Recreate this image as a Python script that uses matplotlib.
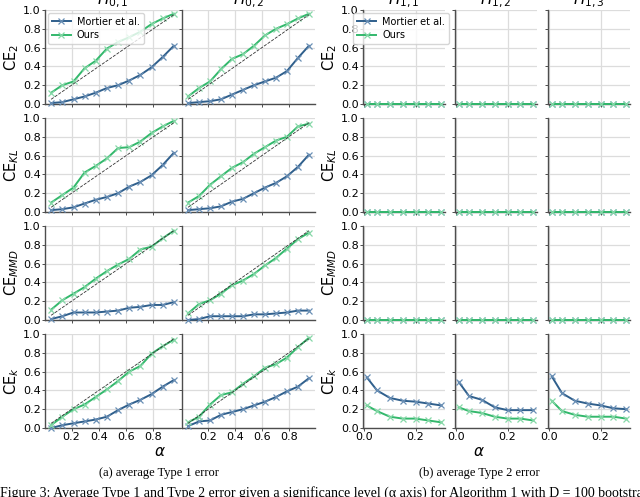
import matplotlib.pyplot as plt

# significance levels on the x axis
alpha_t1 = [0.05, 0.132, 0.214, 0.295, 0.377, 0.459, 0.541, 0.623, 0.705, 0.786, 0.868, 0.95]
alpha_t2 = [0.01, 0.05, 0.1, 0.15, 0.2, 0.25, 0.3]

metrics = ["CE$_2$", "CE$_{KL}$", "CE$_{MMD}$", "CE$_k$"]
h0_titles = ["$H_{0,1}$", "$H_{0,2}$"]
h1_titles = ["$H_{1,1}$", "$H_{1,2}$", "$H_{1,3}$"]

# Type 1 error, rows = metrics, cols = H0,1 / H0,2
mortier_t1 = [
    [[0.01, 0.02, 0.05, 0.08, 0.12, 0.17, 0.20, 0.25, 0.31, 0.39, 0.50, 0.62],
     [0.01, 0.02, 0.03, 0.05, 0.10, 0.15, 0.20, 0.24, 0.28, 0.35, 0.49, 0.62]],
    [[0.02, 0.03, 0.05, 0.09, 0.13, 0.16, 0.20, 0.27, 0.32, 0.39, 0.50, 0.63],
     [0.02, 0.03, 0.04, 0.06, 0.11, 0.14, 0.20, 0.26, 0.31, 0.38, 0.48, 0.61]],
    [[0.01, 0.04, 0.08, 0.08, 0.08, 0.09, 0.10, 0.13, 0.14, 0.16, 0.16, 0.19],
     [0.00, 0.01, 0.04, 0.04, 0.04, 0.04, 0.06, 0.06, 0.07, 0.08, 0.10, 0.10]],
    [[0.00, 0.03, 0.05, 0.07, 0.09, 0.12, 0.19, 0.25, 0.30, 0.36, 0.44, 0.51],
     [0.02, 0.07, 0.08, 0.14, 0.17, 0.20, 0.24, 0.28, 0.33, 0.39, 0.44, 0.53]],
]
ours_t1 = [
    [[0.12, 0.20, 0.24, 0.38, 0.46, 0.59, 0.66, 0.71, 0.77, 0.85, 0.91, 0.96],
     [0.08, 0.17, 0.24, 0.37, 0.48, 0.53, 0.62, 0.73, 0.80, 0.85, 0.91, 0.96]],
    [[0.10, 0.18, 0.26, 0.42, 0.49, 0.57, 0.68, 0.69, 0.75, 0.84, 0.91, 0.97],
     [0.10, 0.17, 0.29, 0.38, 0.47, 0.53, 0.62, 0.69, 0.76, 0.80, 0.91, 0.94]],
    [[0.11, 0.21, 0.28, 0.35, 0.44, 0.52, 0.59, 0.65, 0.75, 0.78, 0.87, 0.95],
     [0.07, 0.17, 0.21, 0.28, 0.37, 0.42, 0.49, 0.58, 0.66, 0.76, 0.86, 0.93]],
    [[0.03, 0.12, 0.20, 0.25, 0.33, 0.41, 0.50, 0.60, 0.66, 0.79, 0.87, 0.94],
     [0.06, 0.12, 0.25, 0.35, 0.38, 0.47, 0.55, 0.64, 0.68, 0.75, 0.86, 0.96]],
]

# Type 2 error, rows = metrics, cols = H1,1 / H1,2 / H1,3
zeros = [0.0, 0.0, 0.0, 0.0, 0.0, 0.0, 0.0]
mortier_t2 = [
    [zeros, zeros, zeros],
    [zeros, zeros, zeros],
    [zeros, zeros, zeros],
    [[0.54, 0.40, 0.32, 0.29, 0.28, 0.26, 0.24],
     [0.49, 0.34, 0.30, 0.22, 0.19, 0.19, 0.19],
     [0.55, 0.37, 0.29, 0.26, 0.24, 0.21, 0.20]],
]
ours_t2 = [
    [zeros, zeros, zeros],
    [zeros, zeros, zeros],
    [zeros, zeros, zeros],
    [[0.24, 0.18, 0.12, 0.10, 0.10, 0.08, 0.06],
     [0.22, 0.18, 0.16, 0.12, 0.10, 0.10, 0.08],
     [0.29, 0.18, 0.14, 0.12, 0.12, 0.12, 0.10]],
]

BLUE = "#2f5f8c"
GREEN = "#33b86c"
W, H = 640, 497

fig = plt.figure(figsize=(6.4, 4.97), dpi=100)

rows_px = [(10, 104), (118, 212), (226, 320), (334, 428)]
left_cols = [(45, 180), (182, 315)]
right_cols = [(363, 445), (455, 537), (548, 630)]


def make_ax(x0, x1, y0, y1):
    return fig.add_axes([x0 / W, 1 - y1 / H, (x1 - x0) / W, (y1 - y0) / H])


def style(ax, show_y, show_x):
    ax.set_ylim(0, 1.0)
    ax.set_yticks([0, 0.2, 0.4, 0.6, 0.8, 1.0])
    ax.grid(True, color="#dcdcdc", lw=0.9)
    ax.set_axisbelow(True)
    for s in ["top", "right"]:
        ax.spines[s].set_visible(False)
    for s in ["left", "bottom"]:
        ax.spines[s].set_color("#4d4d4d")
        ax.spines[s].set_linewidth(1.0)
    ax.tick_params(labelsize=8, length=2, width=0.7, color="#4d4d4d", pad=1.2)
    if not show_y:
        ax.tick_params(labelleft=False)
    if not show_x:
        ax.tick_params(labelbottom=False)


def draw(ax, x, m, o):
    ax.plot(x, m, color=BLUE, lw=1.4, marker="x", ms=4, mew=0.9,
            mec="#6a8fb5", label="Mortier et al.", clip_on=False, zorder=3)
    ax.plot(x, o, color=GREEN, lw=1.4, marker="x", ms=4, mew=0.9,
            mec="#86d8a8", label="Ours", clip_on=False, zorder=4)


def add_legend(ax, x_anchor):
    ax.legend(loc="upper left", fontsize=7, handlelength=2.0, borderpad=0.4,
              labelspacing=0.35, handletextpad=0.6, borderaxespad=0.0,
              bbox_to_anchor=(x_anchor, 0.97))


for r in range(4):
    y0, y1 = rows_px[r]
    # type 1 panels
    for c in range(2):
        ax = make_ax(left_cols[c][0], left_cols[c][1], y0, y1)
        draw(ax, alpha_t1, mortier_t1[r][c], ours_t1[r][c])
        ax.plot(alpha_t1, alpha_t1, ls="--", color="#333333", lw=0.6, zorder=5)
        style(ax, c == 0, r == 3)
        ax.set_xticks([0.2, 0.4, 0.6, 0.8])
        if c == 0:
            ax.set_ylabel(metrics[r], fontsize=10.5, labelpad=1.5)
        if r == 0:
            ax.set_title(h0_titles[c], fontsize=11, pad=2)
            if c == 0:
                add_legend(ax, 0.02)
    # type 2 panels
    for c in range(3):
        ax = make_ax(right_cols[c][0], right_cols[c][1], y0, y1)
        draw(ax, alpha_t2, mortier_t2[r][c], ours_t2[r][c])
        style(ax, c == 0, r == 3)
        ax.set_xticks([0.0, 0.2])
        if c == 0:
            ax.set_ylabel(metrics[r], fontsize=10.5, labelpad=1.5)
        if r == 0:
            ax.set_title(h1_titles[c], fontsize=11, pad=2)
            if c == 0:
                add_legend(ax, -0.12)

# axis labels and captions
fig.text(160 / W, 1 - 451 / H, r"$\alpha$", fontsize=11, ha="center", va="center")
fig.text(479 / W, 1 - 451 / H, r"$\alpha$", fontsize=11, ha="center", va="center")
fig.text(159 / W, 1 - 473 / H, "(a) average Type 1 error", fontsize=9,
         family="Liberation Serif", ha="center", va="center")
fig.text(479 / W, 1 - 473 / H, "(b) average Type 2 error", fontsize=9,
         family="Liberation Serif", ha="center", va="center")
fig.text(0 / W, 1 - 493 / H,
         "Figure 3: Average Type 1 and Type 2 error given a significance level (α axis) "
         "for Algorithm 1 with D = 100 bootstrap",
         fontsize=10, family="Liberation Serif", ha="left", va="center")

fig.savefig("out.png", dpi=100)
